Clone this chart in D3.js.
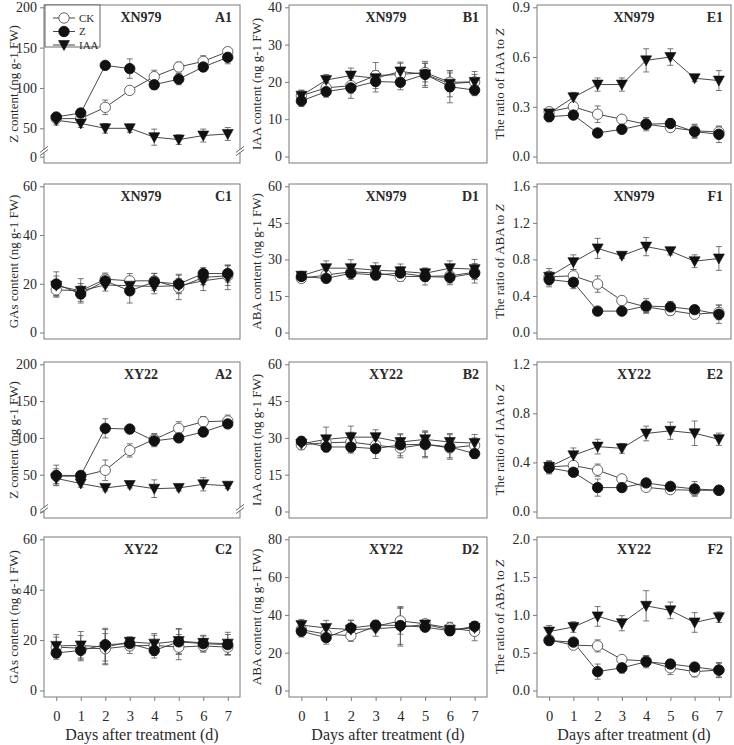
<!DOCTYPE html>
<html>
<head>
<meta charset="utf-8">
<script src="https://cdn.jsdelivr.net/npm/d3@7"></script>
<style>
  body { margin: 0; background: #fff; }
  svg { font-family: "Liberation Serif", "Times New Roman", serif; }
</style>
</head>
<body>
<svg id="chart" width="734" height="745"></svg>
<script>
const days = [0, 1, 2, 3, 4, 5, 6, 7];
const seriesNames = ['CK', 'Z', 'IAA'];

// XN979
const A1_CK = [62, 62, 76, 97, 114, 126, 133, 145];
const A1_Z = [64, 69, 128, 124, 104, 111, 126, 138];
const A1_IAA = [60, 56, 50, 50, 39, 36, 41, 43];
const A1_CK_se = [4, 4, 9, 3, 8, 6, 7, 5];
const A1_Z_se = [4, 5, 3, 12, 6, 7, 5, 8];
const A1_IAA_se = [6, 5, 6, 5, 10, 6, 8, 8];

const B1_CK = [16.3, 18.4, 19, 21.7, 22, 22.5, 19.9, 20];
const B1_Z = [14.9, 17.4, 18.4, 20.1, 19.9, 22, 18.7, 17.8];
const B1_IAA = [16.3, 20.5, 21.7, 21, 22.8, 22, 19.5, 20];
const B1_CK_se = [1.5, 1.5, 2, 3.5, 3, 2.5, 2.5, 2];
const B1_Z_se = [1.5, 1.5, 2.8, 2.8, 2, 3.5, 4.3, 1.5];
const B1_IAA_se = [1.2, 1.5, 2, 2, 2.5, 3, 3.5, 2.8];

const E1_CK = [0.27, 0.30, 0.255, 0.225, 0.195, 0.175, 0.155, 0.148];
const E1_Z = [0.24, 0.25, 0.142, 0.164, 0.195, 0.199, 0.15, 0.134];
const E1_IAA = [0.26, 0.357, 0.434, 0.434, 0.58, 0.60, 0.472, 0.458];
const E1_CK_se = [0.02, 0.02, 0.05, 0.02, 0.03, 0.02, 0.04, 0.03];
const E1_Z_se = [0.03, 0.02, 0.02, 0.02, 0.04, 0.03, 0.04, 0.05];
const E1_IAA_se = [0.02, 0.03, 0.04, 0.04, 0.07, 0.05, 0.02, 0.06];

const C1_CK = [17.5, 17.1, 21.9, 21.2, 21.2, 18.5, 22.6, 23.3];
const C1_Z = [19.9, 15.8, 21.2, 17.1, 20.8, 19.9, 24.2, 24.2];
const C1_IAA = [19.2, 17.1, 19.5, 19.2, 18.9, 19.2, 21.2, 22.6];
const C1_CK_se = [3, 5, 2.5, 3, 3, 5, 3, 4];
const C1_Z_se = [5, 3, 2.5, 5, 3.5, 4, 2.5, 3.5];
const C1_IAA_se = [4, 3, 2.5, 3, 3, 3, 4, 5];

const D1_CK = [22.2, 23.6, 24.9, 24.4, 23, 23, 23.3, 24.7];
const D1_Z = [23, 22.2, 24.3, 23.6, 24.4, 23, 22.6, 24.3];
const D1_IAA = [23.3, 26.4, 26.4, 25.6, 25.1, 24.3, 26.4, 26];
const D1_CK_se = [1.5, 1.5, 2, 2, 2, 2, 3, 3];
const D1_Z_se = [1.5, 1.5, 2.5, 2, 2.5, 3.5, 3, 4];
const D1_IAA_se = [1.5, 3, 3.5, 3, 3, 2, 3, 4];

const F1_CK = [0.61, 0.62, 0.53, 0.35, 0.28, 0.24, 0.20, 0.22];
const F1_Z = [0.58, 0.55, 0.234, 0.234, 0.29, 0.28, 0.25, 0.20];
const F1_IAA = [0.61, 0.77, 0.92, 0.84, 0.94, 0.89, 0.78, 0.81];
const F1_CK_se = [0.06, 0.07, 0.09, 0.04, 0.06, 0.05, 0.04, 0.08];
const F1_Z_se = [0.08, 0.07, 0.03, 0.03, 0.08, 0.06, 0.04, 0.1];
const F1_IAA_se = [0.09, 0.08, 0.11, 0.03, 0.1, 0.04, 0.07, 0.13];

// XY22
const A2_CK = [48, 48, 56, 83, 98, 113, 122, 123];
const A2_Z = [49, 49, 113, 112, 96, 100, 108, 119];
const A2_IAA = [45, 38, 32, 36, 31, 32, 37, 35];
const A2_CK_se = [10, 6, 14, 9, 8, 9, 7, 8];
const A2_Z_se = [14, 5, 13, 4, 8, 5, 6, 5];
const A2_IAA_se = [9, 5, 4, 4, 12, 4, 9, 4];

const B2_CK = [27.2, 28, 28.3, 27, 25.9, 27.4, 25.9, 27];
const B2_Z = [28.6, 26.3, 26.3, 25.6, 27.2, 27.4, 26.3, 23.6];
const B2_IAA = [27.6, 29.4, 30.3, 30.3, 28.3, 29.4, 28.3, 27.9];
const B2_CK_se = [2, 3, 4, 3, 4, 5, 4, 3];
const B2_Z_se = [2, 2, 2.5, 4, 4.5, 5.5, 5, 2];
const B2_IAA_se = [2, 5, 4.5, 3, 3, 3, 3.5, 3.5];

const E2_CK = [0.364, 0.375, 0.337, 0.266, 0.197, 0.178, 0.173, 0.173];
const E2_Z = [0.356, 0.32, 0.195, 0.195, 0.233, 0.205, 0.184, 0.173];
const E2_IAA = [0.364, 0.458, 0.529, 0.515, 0.636, 0.658, 0.638, 0.589];
const E2_CK_se = [0.04, 0.03, 0.05, 0.03, 0.02, 0.02, 0.04, 0.02];
const E2_Z_se = [0.05, 0.03, 0.07, 0.03, 0.03, 0.03, 0.06, 0.02];
const E2_IAA_se = [0.05, 0.06, 0.06, 0.04, 0.06, 0.07, 0.1, 0.05];

const C2_CK = [17.2, 16.8, 16.6, 17.7, 17.9, 17.2, 17.7, 17.2];
const C2_Z = [14.9, 15.9, 18.2, 18.6, 15.9, 19.3, 18.6, 18.2];
const C2_IAA = [17.7, 17.9, 17.2, 19.3, 18.6, 19.6, 18.9, 18.6];
const C2_CK_se = [4, 5, 6, 3, 4, 5, 2.5, 3];
const C2_Z_se = [2.5, 3, 6.5, 2.5, 3, 5, 3, 4];
const C2_IAA_se = [4.5, 5.5, 7, 2, 4, 5, 3, 4.5];

const D2_CK = [32.2, 29.8, 29, 34, 36.8, 35.3, 33.1, 31.3];
const D2_Z = [31.3, 28, 33.1, 34.6, 34.4, 33.5, 31.6, 34];
const D2_IAA = [34.6, 33.1, 32.2, 32.7, 33.5, 34.9, 32.2, 33.1];
const D2_CK_se = [3, 3, 3, 3, 7, 2, 3, 5];
const D2_Z_se = [3, 3.5, 4, 2, 10, 2, 2.5, 2.5];
const D2_IAA_se = [3, 4, 5, 4, 10, 2, 3, 3];

const F2_CK = [0.67, 0.60, 0.59, 0.41, 0.39, 0.30, 0.25, 0.27];
const F2_Z = [0.66, 0.64, 0.25, 0.30, 0.38, 0.35, 0.31, 0.27];
const F2_IAA = [0.78, 0.84, 0.98, 0.89, 1.12, 1.06, 0.90, 0.97];
const F2_CK_se = [0.06, 0.05, 0.08, 0.04, 0.07, 0.09, 0.07, 0.1];
const F2_Z_se = [0.06, 0.05, 0.1, 0.07, 0.08, 0.06, 0.05, 0.09];
const F2_IAA_se = [0.08, 0.07, 0.13, 0.1, 0.2, 0.11, 0.13, 0.07];

// axis ticks
const ticksA = [0, 50, 100, 150, 200];
const ticksB1 = [0, 10, 20, 30, 40];
const ticksE1 = [0, 0.3, 0.6, 0.9];
const ticks60by20 = [0, 20, 40, 60];
const ticks60by15 = [0, 15, 30, 45, 60];
const ticksF1 = [0, 0.4, 0.8, 1.2, 1.6];
const ticksE2 = [0, 0.4, 0.8, 1.2];
const ticksD2 = [0, 20, 40, 60, 80];
const ticksF2 = [0, 0.5, 1.0, 1.5, 2.0];

const panels = [
  { id: 'A1', col: 0, row: 0, cv: 'XN979', kind: 'Z', ticks: ticksA, fmt: 'd', broken: true, legend: true,
    data: [A1_CK, A1_Z, A1_IAA], err: [A1_CK_se, A1_Z_se, A1_IAA_se] },
  { id: 'B1', col: 1, row: 0, cv: 'XN979', kind: 'IAA', ticks: ticksB1, fmt: 'd',
    data: [B1_CK, B1_Z, B1_IAA], err: [B1_CK_se, B1_Z_se, B1_IAA_se] },
  { id: 'E1', col: 2, row: 0, cv: 'XN979', kind: 'rIAA', ticks: ticksE1, fmt: '.1f',
    data: [E1_CK, E1_Z, E1_IAA], err: [E1_CK_se, E1_Z_se, E1_IAA_se] },
  { id: 'C1', col: 0, row: 1, cv: 'XN979', kind: 'GAs', ticks: ticks60by20, fmt: 'd',
    data: [C1_CK, C1_Z, C1_IAA], err: [C1_CK_se, C1_Z_se, C1_IAA_se] },
  { id: 'D1', col: 1, row: 1, cv: 'XN979', kind: 'ABA', ticks: ticks60by15, fmt: 'd',
    data: [D1_CK, D1_Z, D1_IAA], err: [D1_CK_se, D1_Z_se, D1_IAA_se] },
  { id: 'F1', col: 2, row: 1, cv: 'XN979', kind: 'rABA', ticks: ticksF1, fmt: '.1f',
    data: [F1_CK, F1_Z, F1_IAA], err: [F1_CK_se, F1_Z_se, F1_IAA_se] },
  { id: 'A2', col: 0, row: 2, cv: 'XY22', kind: 'Z', ticks: ticksA, fmt: 'd', breakOnly: true,
    data: [A2_CK, A2_Z, A2_IAA], err: [A2_CK_se, A2_Z_se, A2_IAA_se] },
  { id: 'B2', col: 1, row: 2, cv: 'XY22', kind: 'IAA', ticks: ticks60by15, fmt: 'd',
    data: [B2_CK, B2_Z, B2_IAA], err: [B2_CK_se, B2_Z_se, B2_IAA_se] },
  { id: 'E2', col: 2, row: 2, cv: 'XY22', kind: 'rIAA', ticks: ticksE2, fmt: '.1f',
    data: [E2_CK, E2_Z, E2_IAA], err: [E2_CK_se, E2_Z_se, E2_IAA_se] },
  { id: 'C2', col: 0, row: 3, cv: 'XY22', kind: 'GAs', ticks: ticks60by20, fmt: 'd',
    data: [C2_CK, C2_Z, C2_IAA], err: [C2_CK_se, C2_Z_se, C2_IAA_se] },
  { id: 'D2', col: 1, row: 3, cv: 'XY22', kind: 'ABA', ticks: ticksD2, fmt: 'd',
    data: [D2_CK, D2_Z, D2_IAA], err: [D2_CK_se, D2_Z_se, D2_IAA_se] },
  { id: 'F2', col: 2, row: 3, cv: 'XY22', kind: 'rABA', ticks: ticksF2, fmt: '.1f',
    data: [F2_CK, F2_Z, F2_IAA], err: [F2_CK_se, F2_Z_se, F2_IAA_se] },
];

// panel frames
const colLeft = [44, 289, 537];
const colRight = [240, 487, 731];
const rowTop = [5, 184, 362, 537];
const rowBottom = [163, 339, 518, 697];
const labelX = [13, 256, 499];

const svg = d3.select('#chart');
const frameColor = '#7a7a7a';
const ink = '#2a2a2a';

// triangle pointing down
const triPath = 'M-5.5,-4.5L5.5,-4.5L0,5.5Z';

function drawMarker(g, name, x, y) {
  if (name === 'IAA') {
    g.append('path').attr('d', triPath).attr('transform', `translate(${x},${y})`)
      .attr('fill', '#111').attr('stroke', '#111').attr('stroke-width', 0.6);
  } else {
    g.append('circle').attr('cx', x).attr('cy', y).attr('r', 5.2)
      .attr('fill', name === 'CK' ? '#fff' : '#111')
      .attr('stroke', name === 'CK' ? '#555' : '#111').attr('stroke-width', 0.9);
  }
}

function yLabel(g, kind) {
  const t = g.append('text');
  if (kind === 'rIAA' || kind === 'rABA') {
    t.append('tspan').text(kind === 'rIAA' ? 'The ratio of IAA to ' : 'The ratio of ABA to ');
    t.append('tspan').attr('font-style', 'italic').text('Z');
  } else {
    t.text(kind + ' content (ng g-1 FW)');
  }
  return t;
}

panels.forEach(p => {
  const L = colLeft[p.col], R = colRight[p.col];
  const T = rowTop[p.row], B = rowBottom[p.row];
  const g = svg.append('g');

  const x = d3.scaleLinear().domain([-0.5, 7.5]).range([L, R]);
  const top = d3.max(p.ticks);
  let y;
  if (p.broken) {
    // broken axis: 0 sits just under the break
    y = d3.scaleLinear().domain([0, 20, top]).range([B - 6.3, B - 10.5, T + 2.3]);
  } else {
    y = d3.scaleLinear().domain([0, top]).range([B - 6.5, T + 2.3]);
  }

  // frame
  g.append('rect').attr('x', L).attr('y', T).attr('width', R - L).attr('height', B - T)
    .attr('fill', 'none').attr('stroke', frameColor).attr('stroke-width', 1);

  // y axis
  const yAxis = g.append('g').attr('transform', `translate(${L},0)`)
    .call(d3.axisLeft(y).tickValues(p.ticks).tickSize(4).tickPadding(3)
      .tickFormat(d3.format(p.fmt)));
  yAxis.select('.domain').remove();
  yAxis.selectAll('line').attr('stroke', frameColor);
  yAxis.selectAll('text').attr('font-size', 14).attr('fill', ink)
    .attr('font-family', '"Liberation Serif", serif');

  // break marks
  if (p.broken || p.breakOnly) {
    const yb = p.broken ? B - 12 : B - 9;
    [L, R].forEach(xx => {
      g.append('rect').attr('x', xx - 4).attr('y', yb - 1.5).attr('width', 8).attr('height', 3).attr('fill', '#fff');
      [-1.6, 1.6].forEach(off => {
        g.append('line').attr('x1', xx - 4).attr('y1', yb + off + 3).attr('x2', xx + 4).attr('y2', yb + off - 3)
          .attr('stroke', '#444').attr('stroke-width', 0.8);
      });
    });
  }

  // x axis ticks on bottom row
  if (p.row === 3) {
    const xAxis = g.append('g').attr('transform', `translate(0,${B})`)
      .call(d3.axisBottom(x).tickValues(days).tickSize(4).tickPadding(10).tickFormat(d3.format('d')));
    xAxis.select('.domain').remove();
    xAxis.selectAll('line').attr('stroke', frameColor);
    xAxis.selectAll('text').attr('font-size', 14.5).attr('fill', ink)
      .attr('font-family', '"Liberation Serif", serif');
    g.append('text').attr('x', (L + R) / 2).attr('y', 740).attr('text-anchor', 'middle')
      .attr('font-size', 16).attr('fill', ink).text('Days after treatment (d)');
  }

  // y title
  yLabel(g, p.kind).attr('transform', `translate(${labelX[p.col]},${(T + B) / 2}) rotate(-90)`)
    .attr('text-anchor', 'middle').attr('dy', '0.35em').attr('font-size', 13).attr('fill', ink);

  // panel title and id
  g.append('text').attr('x', L + 97).attr('y', T + 17).attr('text-anchor', 'middle')
    .attr('font-weight', 'bold').attr('font-size', 14).attr('fill', ink).text(p.cv);
  g.append('text').attr('x', R - 8).attr('y', T + 17).attr('text-anchor', 'end')
    .attr('font-weight', 'bold').attr('font-size', 14).attr('fill', ink).text(p.id);

  const line = d3.line().x((d, i) => x(days[i])).y(d => y(d));

  // lines
  p.data.forEach(vals => {
    g.append('path').attr('d', line(vals)).attr('fill', 'none')
      .attr('stroke', '#333').attr('stroke-width', 0.9);
  });
  // error bars
  p.data.forEach((vals, s) => {
    vals.forEach((v, i) => {
      const e = p.err[s][i];
      const xx = x(days[i]);
      const y1 = y(v - e), y2 = y(v + e);
      g.append('line').attr('x1', xx).attr('x2', xx).attr('y1', y1).attr('y2', y2)
        .attr('stroke', '#555').attr('stroke-width', 0.8);
      [y1, y2].forEach(yy => g.append('line').attr('x1', xx - 3).attr('x2', xx + 3)
        .attr('y1', yy).attr('y2', yy).attr('stroke', '#555').attr('stroke-width', 0.8));
    });
  });
  // markers
  p.data.forEach((vals, s) => {
    vals.forEach((v, i) => drawMarker(g, seriesNames[s], x(days[i]), y(v)));
  });

  // legend
  if (p.legend) {
    const lg = g.append('g');
    lg.append('rect').attr('x', L + 1).attr('y', T).attr('width', 55).attr('height', 42)
      .attr('fill', '#fff').attr('stroke', '#444').attr('stroke-width', 0.8);
    seriesNames.forEach((n, i) => {
      const yy = T + 13 + i * 13.5;
      lg.append('line').attr('x1', L + 9).attr('x2', L + 31).attr('y1', yy).attr('y2', yy)
        .attr('stroke', '#333').attr('stroke-width', 0.9);
      drawMarker(lg, n, L + 20, yy);
      lg.append('text').attr('x', L + 35).attr('y', yy).attr('dy', '0.35em')
        .attr('font-size', 11).attr('fill', ink).text(n);
    });
  }
});
</script>
</body>
</html>
